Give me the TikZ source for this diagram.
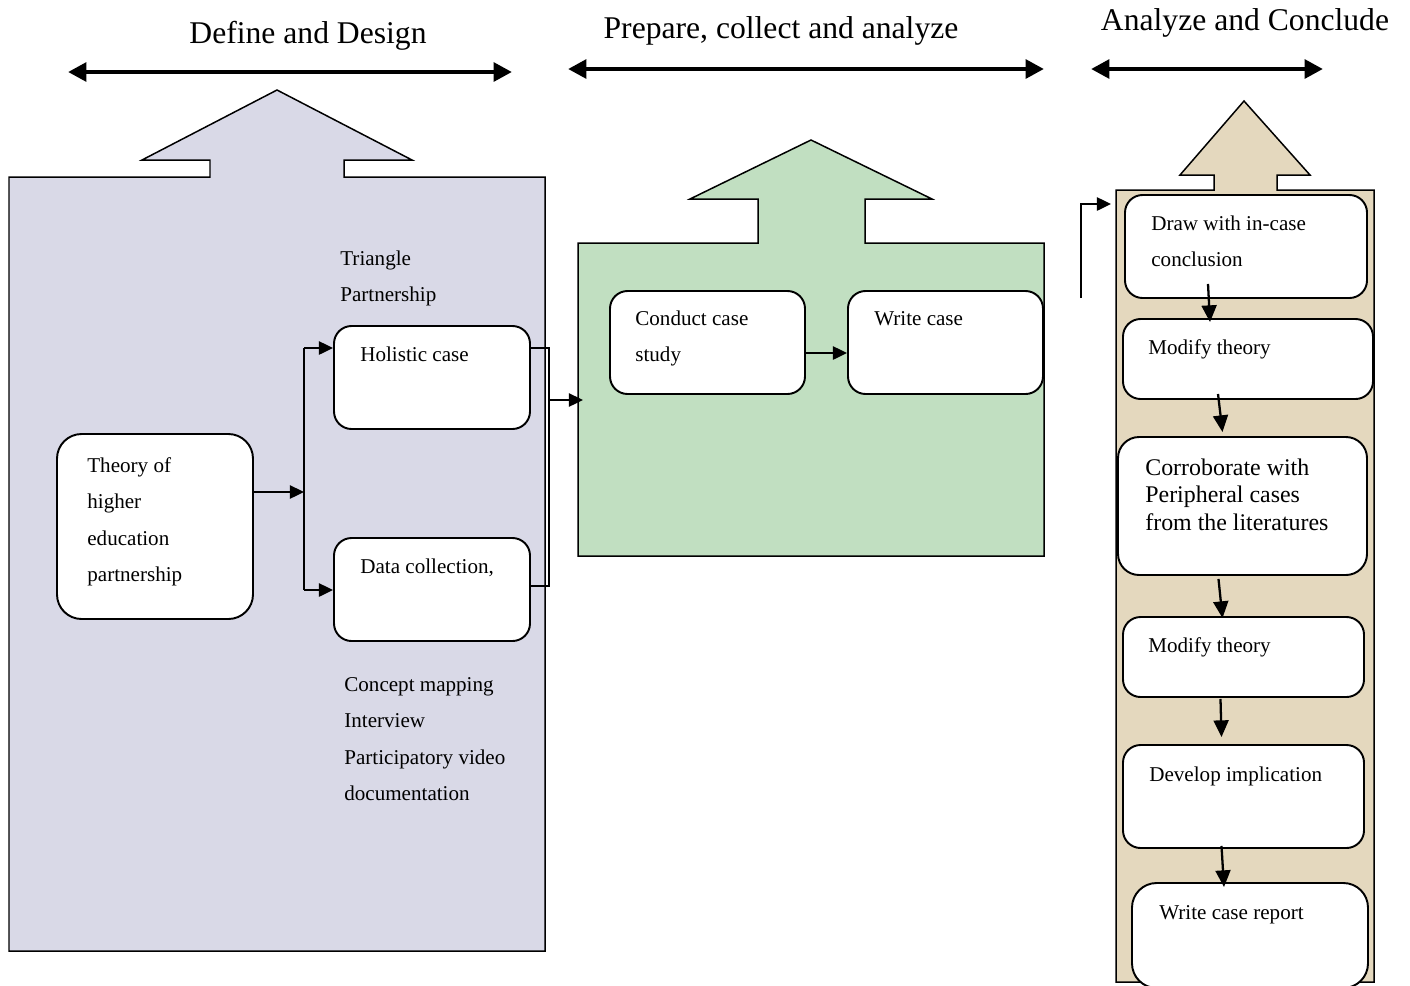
\documentclass[tikz,border=0pt]{standalone}
\usepackage{fontspec}
\setmainfont{Liberation Serif}
\usetikzlibrary{arrows.meta,calc,fit}
\definecolor{designfill}{RGB}{217,217,231}
\definecolor{collectfill}{RGB}{193,223,193}
\definecolor{concludefill}{RGB}{228,216,190}
% multi-line text whose anchor is the baseline of its first line
\newcommand{\txtlines}[1]{\parbox[t]{8cm}{\raggedright #1}}

\begin{document}
\begin{tikzpicture}[x=0.02cm,y=-0.02cm,
  panel/.style={draw=black, line width=0.85pt, line join=miter},
  stepbox/.style={draw=black, fill=white, line width=1.1pt, rounded corners=10pt, inner sep=0pt},
  txt/.style={anchor=base west, inner sep=0pt, font=\fontsize{12}{20.8}\selectfont},
  bigtxt/.style={anchor=base west, inner sep=0pt, font=\fontsize{13.6}{15.9}\selectfont},
  head/.style={anchor=base, inner sep=0pt, font=\fontsize{18}{22}\selectfont},
  flow/.style={-{Triangle[length=8pt,width=7.5pt]}, line width=1.1pt},
  downflow/.style={-{Triangle[length=9.5pt,width=8.5pt]}, line width=1.3pt},
  thinline/.style={line width=0.6pt},
  span/.style={{Triangle[length=10.5pt,width=10.5pt]}-{Triangle[length=10.5pt,width=10.5pt]}, line width=2.8pt},
]
\useasboundingbox (0,0) rectangle (1410,985);

% ---------- phase headings and their spans ----------
\node[head] (hdesign)   at (308,43) {Define and Design};
\node[head] (hcollect)  at (781,38) {Prepare, collect and analyze};
\node[head] (hconclude) at (1245,30) {Analyze and Conclude};
\coordinate (d1) at (68,72);   \coordinate (d2) at (512,72);
\coordinate (c1) at (568,69);  \coordinate (c2) at (1044,69);
\coordinate (a1) at (1091,69); \coordinate (a2) at (1323,69);
\draw[span] (d1) -- (d2);
\draw[span] (c1) -- (c2);
\draw[span] (a1) -- (a2);

% ---------- phase panels (block arrows) ----------
\draw[panel, fill=designfill] (9,177) -- (210,177) -- (210,160) -- (142,160) -- (277,90)
  -- (412,160) -- (344,160) -- (344,177) -- (545,177) -- (545,951) -- (9,951) -- cycle;
\draw[panel, fill=collectfill] (578,243) -- (758,243) -- (758,199) -- (690,199) -- (811,140)
  -- (932,199) -- (865,199) -- (865,243) -- (1044,243) -- (1044,556) -- (578,556) -- cycle;
\draw[panel, fill=concludefill] (1116,190) -- (1214,190) -- (1214,175) -- (1180,175) -- (1244,101)
  -- (1310,175) -- (1277,175) -- (1277,190) -- (1374,190) -- (1374,982) -- (1116,982) -- cycle;

% ---------- define and design ----------
\node[stepbox, rounded corners=14pt, fit={(57,434) (253,619)}] (theory) {};
\node[stepbox, fit={(334,326) (530,429)}] (holistic) {};
\node[stepbox, fit={(334,538) (530,641)}] (datacol) {};

\node[txt] (theorytxt) at (87,472) {\txtlines{Theory of\\higher\\education\\partnership}};
\node[txt] (triangle) at (340,265) {\txtlines{Triangle\\Partnership}};
\node[txt] (holistictxt) at (360,361) {Holistic case};
\node[txt] (datacoltxt) at (360,573) {Data collection,};
\node[txt] (methods) at (344,691) {\txtlines{Concept mapping\\Interview\\Participatory video\\documentation}};

\coordinate (branch) at (304,492);
\coordinate (branchtop) at (304,348);
\coordinate (branchbot) at (304,590);
\draw[flow] ($(theory.east)+(0,-34.5)$) -- (branch);
\draw[line width=1.1pt] (branchtop) -- (branchbot);
\draw[flow] (branchtop) -- (holistic.west |- branchtop);
\draw[flow] (branchbot) -- (datacol.west |- branchbot);

\coordinate (brtop) at (549,348);
\coordinate (brbot) at (549,586);
\coordinate (brmid) at (549,400);
\coordinate (collectin) at (583,400);
\draw[thinline] (holistic.east |- brtop) -- (brtop) -- (brbot) -- (datacol.east |- brbot);
\draw[flow] (brmid) -- (collectin);

% ---------- prepare, collect and analyze ----------
\node[stepbox, fit={(610,291) (805,394)}] (conduct) {};
\node[stepbox, fit={(848,291) (1043,394)}] (writecase) {};
\node[txt] (conducttxt) at (635,325) {\txtlines{Conduct case\\study}};
\node[txt] (writecasetxt) at (874,325) {Write case};
\draw[flow] ($(conduct.east)+(0,10.5)$) -- ($(writecase.west)+(0,10.5)$);

% ---------- analyze and conclude ----------
\node[stepbox, fit={(1125,195) (1367,298)}] (drawconc) {};
\node[stepbox, fit={(1123,319) (1373,399)}] (modifyA) {};
\node[stepbox, rounded corners=12pt, fit={(1118,437) (1367,575)}] (corrob) {};
\node[stepbox, fit={(1123,617) (1364,697)}] (modifyB) {};
\node[stepbox, fit={(1123,745) (1364,848)}] (develop) {};
\node[stepbox, rounded corners=14pt, fit={(1132,883) (1368,988)}] (report) {};

\node[txt] (drawtxt) at (1151,230) {\txtlines{Draw with in-case\\conclusion}};
\node[txt] (modifyAtxt) at (1148,354) {Modify theory};
\node[bigtxt] (corrobtxt) at (1145,475) {\txtlines{Corroborate with\\Peripheral cases\\from the literatures}};
\node[txt] (modifyBtxt) at (1148,652) {Modify theory};
\node[txt] (developtxt) at (1149,781) {Develop implication};
\node[txt] (reporttxt) at (1159,919) {Write case report};

\draw[downflow] ($(drawconc.south)+(-38,-15)$) -- ($(modifyA.north)+(-38,4)$);
\draw[downflow] ($(modifyA.south)+(-30,-6)$) -- ($(corrob.north)+(-20,-4)$);
\draw[downflow] ($(corrob.south)+(-24,3)$) -- ($(modifyB.north)+(-21,2)$);
\draw[downflow] ($(modifyB.south)+(-23,1)$) -- ($(develop.north)+(-22,-7)$);
\draw[downflow] ($(develop.south)+(-22,-3)$) -- ($(report.north)+(-26,5)$);

\coordinate (loopstart) at (1081,298);
\draw[flow] (loopstart) |- ($(drawconc.west)+(-13,-42.5)$);
\end{tikzpicture}
\end{document}
